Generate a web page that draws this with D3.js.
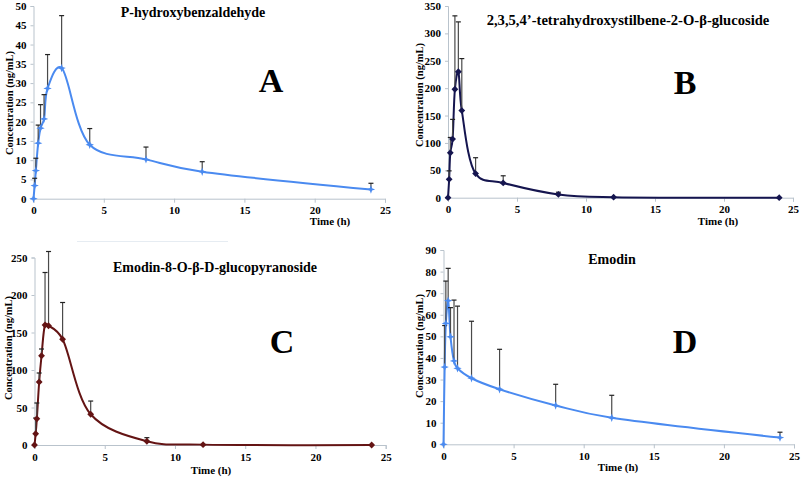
<!DOCTYPE html>
<html><head><meta charset="utf-8">
<script src="https://cdn.jsdelivr.net/npm/d3@7"></script>
<style>
html,body{margin:0;padding:0;background:#fff;}
svg{display:block;}
text{font-family:"Liberation Serif","Times New Roman",serif;font-weight:bold;fill:#000;}
</style></head>
<body>
<svg id="c" width="802" height="478"></svg>
<script>
const times = [0, 0.083, 0.167, 0.333, 0.5, 0.75, 1, 2, 4, 8, 12, 24];

const meanA = [0, 3.4, 7.3, 14.4, 18.3, 20.7, 28.6, 33.9, 14.0, 10.2, 7.0, 2.4];
const sdA   = [0, 1.9, 3.2, 4.7, 6.1, 6.3, 8.8, 13.6, 4.2, 3.2, 2.6, 1.6];

const meanB = [0, 33.5, 82, 107, 198, 230, 159, 44, 27, 6, 1, 0];
const sdB   = [0, 15.5, 28, 36, 134, 91, 95, 29, 13, 4, 0, 0];

const meanC = [0, 15, 35, 84, 119, 160, 159, 141, 41, 5, 0.5, 0];
const sdC   = [0, 21, 21, 12, 9, 70, 99, 49, 17.6, 4.8, 0, 0];

const meanD = [0, 35.8, 56, 66.5, 49.8, 38.6, 35.2, 30.6, 25.5, 18, 12.3, 3.1];
const sdD   = [0, 19.2, 19.6, 15, 13.5, 28.2, 28.8, 26.4, 18.5, 9.8, 10.4, 2.5];

const xTicks = [0, 5, 10, 15, 20, 25];
const yTicksA = [0, 5, 10, 15, 20, 25, 30, 35, 40, 45, 50];
const yTicksB = [0, 50, 100, 150, 200, 250, 300, 350];
const yTicksC = [0, 50, 100, 150, 200, 250];
const yTicksD = [0, 10, 20, 30, 40, 50, 60, 70, 80, 90];

const titles = ["P-hydroxybenzaldehyde", "2,3,5,4\u2019-tetrahydroxystilbene-2-O-\u03b2-glucoside", "Emodin-8-O-\u03b2-D-glucopyranoside", "Emodin"];
const letters = ["A", "B", "C", "D"];
const yLabel = "Concentration (ng/mL)";
const xLabel = "Time (h)";

const svg = d3.select("#c");

function star4(r, ri) {
  let p = [];
  for (let i = 0; i < 8; i++) {
    const a = i * Math.PI / 4 - Math.PI / 2;
    const rr = i % 2 === 0 ? r : ri;
    p.push([rr * Math.cos(a), rr * Math.sin(a)]);
  }
  return "M" + p.map(d => d.join(",")).join("L") + "Z";
}
function diamond(r) {
  return `M0,${-r}L${r},0L0,${r}L${-r},0Z`;
}

const panels = [
  {mean: meanA, sd: sdA, yTicks: yTicksA, ymax: 50, x0: 33.5, x1: 385, y0: 198.7, y1: 6, color: "#4a8af0", marker: star4(4.2, 1.6), title: titles[0], tfs: 14, tx: 193, ty: 17, letter: letters[0], lx: 271, ly: 92, ylx: 9, yly: 103, xlx: 330, xly: 225},
  {mean: meanB, sd: sdB, yTicks: yTicksB, ymax: 350, x0: 448, x1: 793, y0: 197.7, y1: 6, color: "#15154f", marker: diamond(3.4), title: titles[1], tfs: 14.6, tx: 628, ty: 25, letter: letters[1], lx: 685, ly: 94, ylx: 419, yly: 95, xlx: 718, xly: 225},
  {mean: meanC, sd: sdC, yTicks: yTicksC, ymax: 250, x0: 34.5, x1: 385.7, y0: 445, y1: 257.5, color: "#641414", marker: diamond(3.4), title: titles[2], tfs: 14, tx: 215, ty: 272, letter: letters[2], lx: 282, ly: 353, ylx: 8, yly: 348, xlx: 211, xly: 474},
  {mean: meanD, sd: sdD, yTicks: yTicksD, ymax: 90, x0: 443.5, x1: 794, y0: 444.3, y1: 250, color: "#4a8af0", marker: star4(4.2, 1.6), title: titles[3], tfs: 14, tx: 612, ty: 264, letter: letters[3], lx: 685, ly: 353, ylx: 419, yly: 346, xlx: 618, xly: 471}
];

// faint artifact line above panel C
svg.append("line").attr("x1", 77).attr("x2", 228).attr("y1", 241.5).attr("y2", 241.5)
  .attr("stroke", "#e6ecf2").attr("stroke-width", 1);

panels.forEach(p => {
  const x = d3.scaleLinear().domain([0, 25]).range([p.x0, p.x1]);
  const y = d3.scaleLinear().domain([0, p.ymax]).range([p.y0, p.y1]);
  const g = svg.append("g");

  const xAxis = g.append("g").attr("transform", `translate(0,${p.y0})`)
    .call(d3.axisBottom(x).tickValues(xTicks).tickSize(4).tickPadding(4).tickFormat(d3.format("d")));
  const yAxis = g.append("g").attr("transform", `translate(${p.x0},0)`)
    .call(d3.axisLeft(y).tickValues(p.yTicks).tickSize(3).tickPadding(4).tickFormat(d3.format("d")));
  [xAxis, yAxis].forEach(a => {
    a.select(".domain").attr("stroke", "#b9c3cc").attr("stroke-width", 1);
    a.selectAll(".tick line").attr("stroke", "#b9c3cc");
    a.selectAll(".tick text").attr("font-size", 11).attr("font-family", "Liberation Serif, serif").attr("font-weight", "bold").attr("fill", "#000");
  });

  const data = times.map((t, i) => ({t, m: p.mean[i], s: p.sd[i]}));

  // line (Excel-like smoothing)
  const line = d3.line().x(d => x(d.t)).y(d => y(d.m)).curve(d3.curveCatmullRom.alpha(0.2));
  g.append("path").datum(data).attr("d", line).attr("fill", "none")
    .attr("stroke", p.color).attr("stroke-width", 2);

  // error bars (upper)
  const eb = g.selectAll(".eb").data(data.filter(d => d.s > 0)).enter().append("g");
  eb.append("line").attr("x1", d => x(d.t)).attr("x2", d => x(d.t))
    .attr("y1", d => y(d.m)).attr("y2", d => y(d.m + d.s))
    .attr("stroke", "#4a4a4a").attr("stroke-width", 1.2);
  eb.append("line").attr("x1", d => x(d.t) - 2.5).attr("x2", d => x(d.t) + 2.5)
    .attr("y1", d => y(d.m + d.s)).attr("y2", d => y(d.m + d.s))
    .attr("stroke", "#222").attr("stroke-width", 1.2);

  // markers
  g.selectAll(".mk").data(data).enter().append("path")
    .attr("d", p.marker).attr("transform", d => `translate(${x(d.t)},${y(d.m)})`)
    .attr("fill", p.color);

  g.append("text").attr("x", p.tx).attr("y", p.ty).attr("text-anchor", "middle")
    .attr("font-size", p.tfs).text(p.title);
  g.append("text").attr("x", p.lx).attr("y", p.ly).attr("text-anchor", "middle")
    .attr("font-size", 34).text(p.letter);
  g.append("text").attr("transform", `translate(${p.ylx},${p.yly}) rotate(-90)`)
    .attr("text-anchor", "middle").attr("dominant-baseline", "central")
    .attr("font-size", 10.5).text(yLabel);
  g.append("text").attr("x", p.xlx).attr("y", p.xly).attr("text-anchor", "middle")
    .attr("font-size", 11).text(xLabel);
});
</script>
</body></html>
